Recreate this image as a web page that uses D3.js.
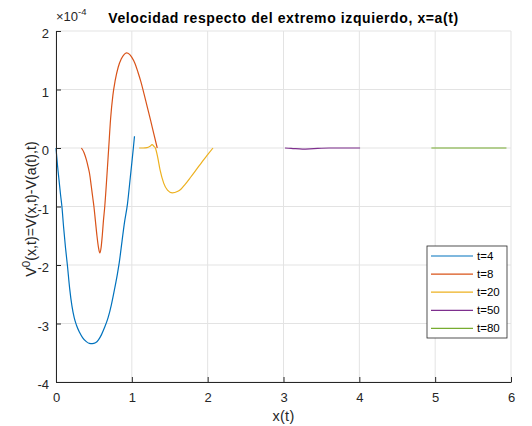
<!DOCTYPE html>
<html>
<head>
<meta charset="utf-8">
<script src="https://cdn.jsdelivr.net/npm/d3@7"></script>
<style>
  body { margin: 0; background: #fff; }
  svg { display: block; font-family: "Liberation Sans", Arial, sans-serif; }
</style>
</head>
<body>
<div id="mainDiv"></div>
<script>
// Values (y in units of 1e-4)
const seriesNames = ["t=4", "t=8", "t=20", "t=50", "t=80"];
const seriesColors = ["#0072BD", "#D95319", "#EDB120", "#7E2F8E", "#77AC30"];

const xT4 = [0, 0.02, 0.04, 0.06, 0.078, 0.1, 0.125, 0.15, 0.18, 0.21, 0.24, 0.27, 0.31, 0.35, 0.4, 0.44, 0.478,
  0.52, 0.56, 0.6, 0.64, 0.687, 0.73, 0.774, 0.81, 0.835, 0.87, 0.9, 0.943, 0.98, 1.02, 1.035];
const yT4 = [0, -0.3, -0.55, -0.8, -1, -1.35, -1.7, -2, -2.4, -2.7, -2.9, -3.03, -3.15, -3.24, -3.31, -3.34, -3.345,
  -3.33, -3.28, -3.19, -3.07, -2.9, -2.68, -2.4, -2.15, -1.95, -1.6, -1.3, -0.95, -0.5, 0, 0.2];

const xT8 = [0.335, 0.37, 0.4, 0.425, 0.443, 0.465, 0.485, 0.5, 0.52, 0.54, 0.56, 0.578, 0.595, 0.61, 0.625, 0.643,
  0.67, 0.695, 0.72, 0.75, 0.78, 0.82, 0.86, 0.9, 0.93, 0.97, 1.0, 1.04, 1.08, 1.12, 1.16, 1.2, 1.25, 1.29, 1.335];
const yT8 = [0, -0.08, -0.2, -0.33, -0.44, -0.65, -0.85, -1, -1.25, -1.5, -1.7, -1.795, -1.7, -1.5, -1.25, -1,
  -0.5, 0, 0.5, 0.9, 1.15, 1.38, 1.52, 1.6, 1.625, 1.6, 1.55, 1.45, 1.3, 1.13, 0.93, 0.72, 0.46, 0.24, 0];

const xT20 = [1.097, 1.15, 1.2, 1.24, 1.267, 1.29, 1.31, 1.34, 1.373, 1.42, 1.47, 1.534, 1.6, 1.65, 1.7, 1.775,
  1.85, 1.924, 2.0, 2.07];
const yT20 = [0, 0, 0.005, 0.03, 0.057, 0.03, 0, -0.15, -0.38, -0.6, -0.72, -0.767, -0.745, -0.7, -0.625, -0.5,
  -0.37, -0.24, -0.115, 0];

const xT50 = [3.02, 3.1, 3.25, 3.4, 3.6, 4.01];
const yT50 = [0, -0.005, -0.02, -0.01, 0, 0];

const xT80 = [4.95, 5.5, 5.94];
const yT80 = [0, 0, 0];

const xTicks = [0, 1, 2, 3, 4, 5, 6];
const yTicks = [-4, -3, -2, -1, 0, 1, 2];

const seriesX = [xT4, xT8, xT20, xT50, xT80];
const seriesY = [yT4, yT8, yT20, yT50, yT80];

const chartSize = {
  width: 532, height: 426,
  margin: { top: 31, right: 21, bottom: 44, left: 56 }
};
const axisColor = "#262626";
const gridColor = "#e3e3e3";

const x = d3.scaleLinear()
  .domain([0, 6])
  .range([chartSize.margin.left, chartSize.width - chartSize.margin.right]);

const y = d3.scaleLinear()
  .domain([-4, 2])
  .range([chartSize.height - chartSize.margin.bottom, chartSize.margin.top]);

const svg = d3.select("#mainDiv")
  .append("svg")
  .attr("width", chartSize.width)
  .attr("height", chartSize.height);

// grid
svg.append("g")
  .selectAll("line")
  .data(xTicks)
  .join("line")
  .attr("x1", d => x(d)).attr("x2", d => x(d))
  .attr("y1", y(-4)).attr("y2", y(2))
  .attr("stroke", gridColor);

svg.append("g")
  .selectAll("line")
  .data(yTicks)
  .join("line")
  .attr("x1", x(0)).attr("x2", x(6))
  .attr("y1", d => y(d)).attr("y2", d => y(d))
  .attr("stroke", gridColor);

// curves
const line = d3.line()
  .x(d => x(d[0]))
  .y(d => y(d[1]))
  .curve(d3.curveMonotoneX);

svg.append("g")
  .selectAll("path")
  .data(seriesX.map((xs, i) => xs.map((v, j) => [v, seriesY[i][j]])))
  .join("path")
  .attr("d", line)
  .attr("fill", "none")
  .attr("stroke", (d, i) => seriesColors[i])
  .attr("stroke-width", 1.2);

// axes
const tickFmt = d => String(d);

const xAxis = g => g
  .attr("transform", `translate(0,${y(-4)})`)
  .call(d3.axisBottom(x).tickValues(xTicks).tickFormat(tickFmt)
    .tickSizeInner(-5).tickSizeOuter(0).tickPadding(11))
  .call(g => g.select(".domain").attr("stroke", axisColor))
  .call(g => g.selectAll(".tick line").attr("stroke", axisColor))
  .call(g => g.selectAll(".tick text")
    .attr("fill", axisColor)
    .attr("font-size", 13)
    .attr("font-family", "Liberation Sans, Arial, sans-serif"));

const yAxis = g => g
  .attr("transform", `translate(${x(0)},0)`)
  .call(d3.axisLeft(y).tickValues(yTicks).tickFormat(tickFmt)
    .tickSizeInner(-5).tickSizeOuter(0).tickPadding(7))
  .call(g => g.select(".domain").attr("stroke", axisColor))
  .call(g => g.selectAll(".tick line").attr("stroke", axisColor))
  .call(g => g.selectAll(".tick text")
    .attr("fill", axisColor)
    .attr("dy", "0.5em")
    .attr("font-size", 13)
    .attr("font-family", "Liberation Sans, Arial, sans-serif"));

svg.append("g").call(xAxis);
svg.append("g").call(yAxis);

// exponent label
const expLabel = svg.append("text")
  .attr("x", x(0))
  .attr("y", 21)
  .attr("fill", axisColor)
  .attr("font-size", 13);
expLabel.append("tspan").text("×10");
expLabel.append("tspan").attr("dy", -6).attr("font-size", 9.5).text("-4");

// title
svg.append("text")
  .attr("x", (x(0) + x(6)) / 2)
  .attr("y", 23)
  .attr("text-anchor", "middle")
  .attr("font-weight", "bold")
  .attr("font-size", 14)
  .attr("letter-spacing", 0.6)
  .attr("fill", "#000")
  .text("Velocidad respecto del extremo izquierdo, x=a(t)");

// x label
svg.append("text")
  .attr("x", (x(0) + x(6)) / 2)
  .attr("y", 421)
  .attr("text-anchor", "middle")
  .attr("font-size", 14.5)
  .attr("letter-spacing", 0.3)
  .attr("fill", axisColor)
  .text("x(t)");

// y label
const yLabel = svg.append("text")
  .attr("transform", `translate(36,209) rotate(-90)`)
  .attr("text-anchor", "middle")
  .attr("font-size", 14.2)
  .attr("fill", axisColor);
yLabel.append("tspan").text("V");
yLabel.append("tspan").attr("dy", -6).attr("font-size", 11.5).text("0");
yLabel.append("tspan").attr("dy", 6).text("(x,t)=V(x,t)-V(a(t),t)");

// legend
const legend = svg.append("g").attr("transform", "translate(427,246)");
legend.append("rect")
  .attr("width", 80).attr("height", 92)
  .attr("fill", "#fff")
  .attr("stroke", axisColor)
  .attr("stroke-width", 0.8);

const items = legend.selectAll("g")
  .data(seriesNames)
  .join("g")
  .attr("transform", (d, i) => `translate(0,${10 + i * 18.1})`);
items.append("line")
  .attr("x1", 4).attr("x2", 46)
  .attr("stroke", (d, i) => seriesColors[i])
  .attr("stroke-width", 1.2);
items.append("text")
  .attr("x", 50)
  .attr("y", 4)
  .attr("font-size", 11.5)
  .attr("fill", "#000")
  .text(d => d);
</script>
</body>
</html>
